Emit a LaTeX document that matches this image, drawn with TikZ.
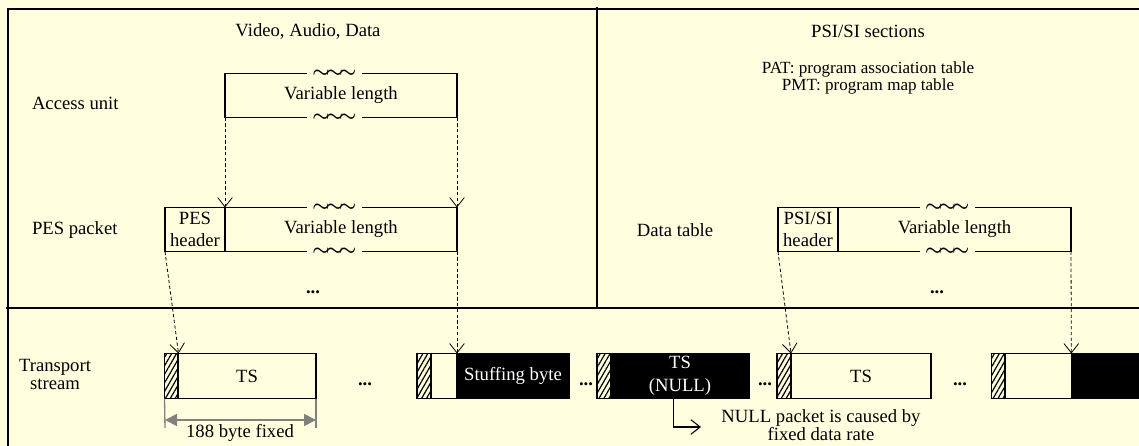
\documentclass[tikz,border=0pt]{standalone}
\usepackage{fontspec}
\setmainfont{Liberation Serif}
\usetikzlibrary{arrows.meta,patterns.meta}
\definecolor{bg}{RGB}{255,255,224}
\definecolor{dimgray}{RGB}{128,128,128}
\begin{document}
\begin{tikzpicture}[x=0.75pt,y=-0.75pt,
  every node/.style={font=\fontsize{14}{13.5}\selectfont, inner sep=0pt, outer sep=0pt},
  frame/.style={line width=1.3pt},
  box/.style={draw, line width=0.8pt, minimum height=33pt},
  tsbox/.style={draw, line width=0.8pt, minimum height=33.75pt},
  hatch/.style={tsbox, pattern={Lines[angle=60,distance=3.2pt,line width=0.9pt]}, minimum width=10.5pt},
  blackbox/.style={tsbox, fill=black, text=white},
  tildes/.style={fill=bg, minimum width=41pt, minimum height=4pt, text height=5.3pt, text depth=-2.3pt, font=\boldmath\fontsize{15}{15}\selectfont},
  dashline/.style={line width=0.6pt, dash pattern=on 2.5pt off 1.8pt, -{Straight Barb[length=7pt,width=11pt]}},
  dots/.style={anchor=base, font=\bfseries\fontsize{14}{14}\selectfont}
]
\fill[bg] (0,0) rectangle (1139,446);
\useasboundingbox (0,0) rectangle (1139,446);

% frame
\draw[frame] (8,446) -- (8,9) -- (1139,9);
\draw[line width=1.1pt] (6,308) -- (1139,308);
\draw[line width=1.1pt] (597,7) -- (597,308);

% headings
\node (vad) at (308,31) {Video, Audio, Data};
\node (psis) at (868,31) {PSI/SI sections};
\node[align=center, font=\fontsize{12.8}{12.8}\selectfont] (patpmt) at (868,78) {PAT: program association table\\PMT: program map table};

% left labels
\node[anchor=west] (aulab) at (32,103) {Access unit};
\node[anchor=west] (peslab) at (32,230) {PES packet};
\node (dtlab) at (675,230) {Data table};
\node[align=center] (tslab) at (55,374) {Transport\\stream};

% access unit
\node[box, minimum width=174pt] (au) at (341,95.5) {Variable length};
\node[tildes] (aut) at ([xshift=-5pt]au.north) {$\sim\!\sim\!\sim$};
\node[tildes] (aub) at ([xshift=-5pt]au.south) {$\sim\!\sim\!\sim$};

% PES packet
\node[box, minimum width=45pt, align=center] (peshdr) at (195,229.5) {PES\\[3pt]header};
\node[box, minimum width=174pt] (pesvar) at (341,229.5) {Variable length};
\node[tildes] (pest) at ([xshift=-5pt]pesvar.north) {$\sim\!\sim\!\sim$};
\node[tildes] (pesb) at ([xshift=-5pt]pesvar.south) {$\sim\!\sim\!\sim$};
\node[dots] (pesdots) at (313,293) {...};

% PSI/SI data table
\node[box, minimum width=45pt, align=center] (psihdr) at (808,229.5) {PSI/SI\\[3pt]header};
\node[box, minimum width=174.75pt] (psivar) at (954.5,229.5) {Variable length};
\node[tildes] (psit) at ([xshift=-5.5pt]psivar.north) {$\sim\!\sim\!\sim$};
\node[tildes] (psib) at ([xshift=-5.5pt]psivar.south) {$\sim\!\sim\!\sim$};
\node[dots] (psidots) at (937,293) {...};

% arrows access unit -> PES
\draw[dashline] (au.south west) -- (pesvar.north west);
\draw[dashline] (au.south east) -- (pesvar.north east);

% transport stream packets
\node[hatch] (h1) at (171.5,376) {};
\node[tsbox, minimum width=103.5pt] (ts1) at (247,376) {TS};
\node[dots] (d1) at (365,385) {...};

\node[hatch] (h2) at (424,376) {};
\node[tsbox, minimum width=19.5pt] (w2) at (444,376) {};
\node[blackbox, minimum width=84pt] (stuff) at (513,376) {Stuffing byte};
\node[dots] (d2) at (586,385) {...};

\node[hatch] (h3) at (604,376) {};
\node[blackbox, minimum width=103.5pt, align=center] (null) at (680,376) {TS\\[3.5pt](NULL)};
\node[dots] (d3) at (765,385) {...};

\node[hatch] (h4) at (784,376) {};
\node[tsbox, minimum width=105pt] (ts4) at (861,376) {TS};
\node[dots] (d4) at (960,385) {...};

\node[hatch] (h5) at (998.5,376) {};
\node[tsbox, minimum width=50.25pt] (w5) at (1038.5,376) {};
\node[blackbox, minimum width=52pt] (b5) at (1106,376) {};

% arrows to TS
\draw[dashline] (peshdr.south west) -- (h1.north east);
\draw[dashline] (pesvar.south east) -- (stuff.north west);
\draw[dashline] (psihdr.south west) -- (h4.north east);
\draw[dashline] (psivar.south east) -- (b5.north west);

% 188 byte dimension
\coordinate (dl) at (165,428);
\coordinate (dr) at (316,428);
\draw[line width=1pt, dimgray] (h1.south west) -- (dl);
\draw[line width=1pt, dimgray] (ts1.south east) -- (dr);
\draw[line width=1.3pt, dimgray, {Triangle[length=9pt,width=9pt]}-{Triangle[length=9pt,width=9pt]}] (165,420) -- (316,420);
\node (dimlab) at (240,433) {188 byte fixed};

% NULL note
\coordinate (nullend) at (701,427);
\draw[line width=0.8pt, -{Straight Barb[length=7pt,width=11pt]}] ([xshift=-5pt]null.south) |- (nullend);
\node[align=center, font=\fontsize{14}{12.5}\selectfont] (note) at (821,425) {NULL packet is caused by\\fixed data rate};
\end{tikzpicture}
\end{document}
